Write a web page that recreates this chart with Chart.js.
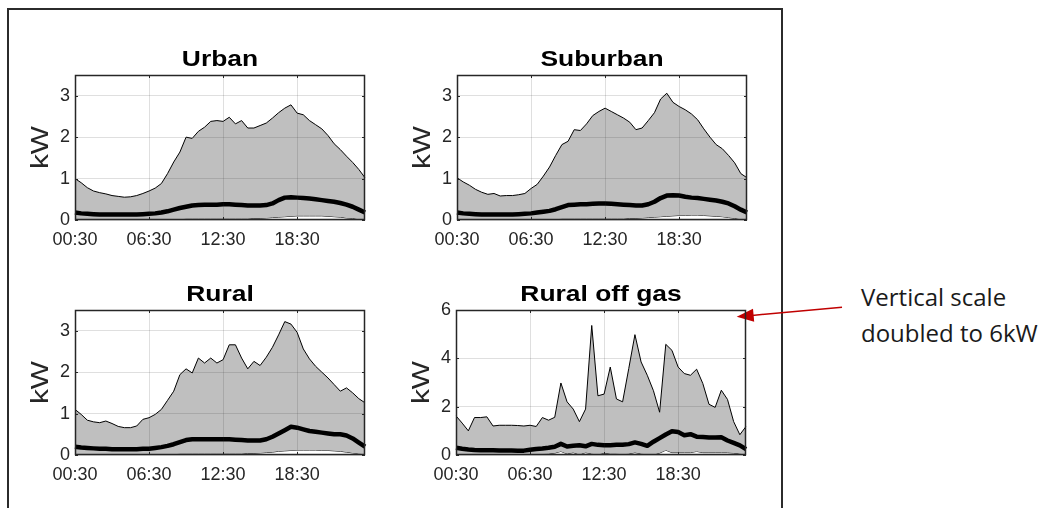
<!DOCTYPE html>
<html>
<head>
<meta charset="utf-8">
<script src="https://cdn.jsdelivr.net/npm/chart.js@4.4.1/dist/chart.umd.min.js"></script>
<style>
html, body { margin: 0; padding: 0; background: #fff; }
body { width: 1042px; height: 508px; position: relative; overflow: hidden; }
#frame { position: absolute; left: 7px; top: 8px; width: 772px; height: 520px; border: 2px solid #2b2b2b; }
.panel { position: absolute; display: block; }
#note { position: absolute; left: 861px; top: 279px; font: 24px/36px "Open Sans", sans-serif; color: #1a1a1a; white-space: nowrap; }
#arrow { position: absolute; left: 0; top: 0; }
</style>
</head>
<body>
<div id="frame"></div>
<div id="note">Vertical scale<br>doubled to 6kW</div>
<svg id="arrow" width="1042" height="508">
  <line x1="842" y1="307.3" x2="752" y2="315.4" stroke="#c00000" stroke-width="1.5"/>
  <polygon points="736.7,316.7 754.2,321.7 753.0,308.7" fill="#c00000"/>
</svg>
<script>
// half-hourly time of day, 00:30 .. 24:00
const times = [
  '00:30','01:00','01:30','02:00','02:30','03:00','03:30','04:00','04:30','05:00','05:30','06:00',
  '06:30','07:00','07:30','08:00','08:30','09:00','09:30','10:00','10:30','11:00','11:30','12:00',
  '12:30','13:00','13:30','14:00','14:30','15:00','15:30','16:00','16:30','17:00','17:30','18:00',
  '18:30','19:00','19:30','20:00','20:30','21:00','21:30','22:00','22:30','23:00','23:30','24:00'
];
const xTickTimes = ['00:30', '06:30', '12:30', '18:30'];
const lowYTicks = [0, 1, 2, 3];
const highYTicks = [0, 2, 4, 6];
const panelTitles = ['Urban', 'Suburban', 'Rural', 'Rural off gas'];

const urbanUpper = [1.00,0.90,0.78,0.70,0.66,0.63,0.59,0.57,0.55,0.56,0.59,0.64,
  0.70,0.77,0.88,1.12,1.40,1.64,2.00,1.97,2.14,2.24,2.38,2.40,
  2.38,2.48,2.32,2.40,2.22,2.22,2.28,2.34,2.46,2.59,2.70,2.78,
  2.58,2.54,2.40,2.30,2.20,2.04,1.84,1.70,1.54,1.39,1.22,1.02];
const urbanMean = [0.18,0.16,0.15,0.14,0.13,0.13,0.13,0.13,0.13,0.13,0.13,0.14,
  0.15,0.16,0.18,0.21,0.25,0.29,0.32,0.35,0.36,0.37,0.37,0.37,
  0.38,0.38,0.37,0.36,0.35,0.35,0.35,0.36,0.40,0.48,0.54,0.55,
  0.54,0.53,0.52,0.50,0.48,0.46,0.44,0.41,0.37,0.32,0.25,0.18];
const urbanLower = [0.02,0.02,0.01,0.01,0.01,0.01,0.01,0.01,0.01,0.01,0.01,0.01,
  0.01,0.01,0.01,0.02,0.02,0.02,0.03,0.03,0.03,0.03,0.03,0.03,
  0.03,0.03,0.03,0.03,0.03,0.04,0.04,0.05,0.06,0.07,0.08,0.09,
  0.10,0.10,0.10,0.10,0.10,0.09,0.08,0.07,0.05,0.04,0.02,0.01];

const suburbanUpper = [1.02,0.92,0.84,0.74,0.67,0.62,0.64,0.58,0.59,0.59,0.61,0.64,
  0.76,0.86,1.06,1.28,1.56,1.82,1.90,2.18,2.16,2.32,2.52,2.62,
  2.70,2.62,2.54,2.46,2.36,2.18,2.22,2.40,2.59,2.92,3.06,2.84,
  2.74,2.66,2.56,2.42,2.20,2.00,1.82,1.72,1.56,1.38,1.12,1.02];
const suburbanMean = [0.18,0.16,0.15,0.14,0.13,0.13,0.13,0.13,0.13,0.13,0.14,0.15,
  0.16,0.18,0.20,0.22,0.26,0.31,0.36,0.37,0.38,0.38,0.39,0.40,
  0.40,0.39,0.38,0.37,0.36,0.35,0.35,0.38,0.44,0.53,0.59,0.60,
  0.59,0.56,0.54,0.53,0.51,0.49,0.47,0.44,0.40,0.33,0.25,0.18];
const suburbanLower = [0.02,0.02,0.01,0.01,0.01,0.01,0.01,0.01,0.01,0.01,0.01,0.01,
  0.01,0.01,0.02,0.02,0.02,0.03,0.03,0.03,0.03,0.03,0.03,0.03,
  0.03,0.03,0.03,0.03,0.04,0.04,0.05,0.06,0.07,0.08,0.09,0.10,
  0.11,0.11,0.12,0.12,0.11,0.10,0.09,0.08,0.06,0.04,0.02,0.01];

const ruralUpper = [1.10,0.98,0.84,0.80,0.78,0.82,0.76,0.69,0.66,0.66,0.70,0.86,
  0.90,0.98,1.10,1.32,1.54,1.94,2.08,1.98,2.34,2.22,2.34,2.22,
  2.30,2.66,2.66,2.34,2.08,2.26,2.16,2.36,2.60,2.90,3.22,3.16,
  2.96,2.56,2.32,2.14,2.00,1.86,1.70,1.54,1.62,1.50,1.36,1.26];
const ruralMean = [0.20,0.18,0.17,0.16,0.15,0.15,0.14,0.14,0.14,0.14,0.14,0.15,
  0.15,0.17,0.19,0.22,0.26,0.31,0.36,0.38,0.38,0.38,0.38,0.38,
  0.38,0.38,0.37,0.36,0.35,0.35,0.35,0.38,0.44,0.52,0.60,0.68,
  0.66,0.62,0.58,0.56,0.54,0.52,0.50,0.50,0.47,0.40,0.30,0.20];
const ruralLower = [0.02,0.02,0.01,0.01,0.01,0.01,0.01,0.01,0.01,0.01,0.01,0.01,
  0.01,0.01,0.02,0.02,0.02,0.03,0.03,0.03,0.03,0.03,0.03,0.03,
  0.03,0.03,0.03,0.03,0.04,0.04,0.05,0.06,0.07,0.09,0.10,0.11,
  0.12,0.12,0.12,0.12,0.11,0.11,0.10,0.09,0.07,0.05,0.03,0.02];

const offGasUpper = [1.62,1.32,1.00,1.55,1.55,1.58,1.20,1.23,1.23,1.23,1.22,1.20,
  1.23,1.18,1.55,1.44,1.56,2.98,2.20,1.90,1.38,1.90,5.36,2.45,
  2.52,3.64,2.32,2.20,3.58,4.98,3.85,3.30,2.66,1.77,4.58,4.33,
  3.64,3.37,3.30,3.55,2.96,2.10,1.97,2.68,2.30,1.38,0.84,1.18];
const offGasMean = [0.30,0.26,0.23,0.21,0.20,0.20,0.20,0.19,0.19,0.19,0.18,0.18,
  0.22,0.25,0.27,0.30,0.34,0.46,0.35,0.38,0.40,0.36,0.46,0.42,
  0.40,0.40,0.42,0.42,0.45,0.52,0.46,0.38,0.55,0.70,0.85,0.98,
  0.95,0.82,0.86,0.76,0.74,0.72,0.72,0.73,0.60,0.50,0.40,0.24];
const offGasLower = [0.02,0.02,0.02,0.02,0.02,0.02,0.02,0.02,0.02,0.02,0.02,0.02,
  0.02,0.03,0.04,0.05,0.08,0.15,0.05,0.10,0.02,0.10,0.05,0.02,
  0.08,0.05,0.05,0.03,0.05,0.10,0.05,0.03,0.02,0.08,0.20,0.10,
  0.10,0.10,0.10,0.15,0.10,0.10,0.10,0.10,0.10,0.08,0.05,0.02];

// layout of each subplot (plot box position on the page)
const PLOT_W = 290, PLOT_H = 145;
const AXIS_W = 65, TOP_PAD = 45, AXIS_H = 38, RIGHT_PAD = 6;

const panels = [
  { title: panelTitles[0], upper: urbanUpper, mean: urbanMean, lower: urbanLower, yMax: 3.5, yTicks: lowYTicks, px: 75, py: 75 },
  { title: panelTitles[1], upper: suburbanUpper, mean: suburbanMean, lower: suburbanLower, yMax: 3.5, yTicks: lowYTicks, px: 457, py: 75 },
  { title: panelTitles[2], upper: ruralUpper, mean: ruralMean, lower: ruralLower, yMax: 3.5, yTicks: lowYTicks, px: 75, py: 310 },
  { title: panelTitles[3], upper: offGasUpper, mean: offGasMean, lower: offGasLower, yMax: 6, yTicks: highYTicks, px: 456, py: 310 }
];

const TEXT = '#262626';
const TICK_FONT = { family: '"Liberation Sans", Arial, sans-serif', size: 18 };

// box with inward ticks, title and y label, drawn like the matlab axes
const axesDecor = {
  id: 'axesDecor',
  afterDraw(chart, args, opts) {
    const ctx = chart.ctx;
    const a = chart.chartArea;
    const xs = chart.scales.x, ys = chart.scales.y;
    ctx.save();
    ctx.strokeStyle = TEXT;
    ctx.lineWidth = 1.5;
    ctx.strokeRect(a.left + 0.5, a.top + 0.5, a.right - a.left - 1, a.bottom - a.top - 1);
    ctx.lineWidth = 1;
    ctx.beginPath();
    xTickTimes.forEach(t => {
      const px = Math.round(xs.getPixelForValue(times.indexOf(t))) + 0.5;
      ctx.moveTo(px, a.bottom); ctx.lineTo(px, a.bottom - 3);
      ctx.moveTo(px, a.top); ctx.lineTo(px, a.top + 3);
    });
    ys.ticks.forEach(tk => {
      const py = Math.round(ys.getPixelForValue(tk.value)) + 0.5;
      ctx.moveTo(a.left, py); ctx.lineTo(a.left + 3, py);
      ctx.moveTo(a.right, py); ctx.lineTo(a.right - 3, py);
    });
    ctx.stroke();

    // title
    ctx.fillStyle = '#000';
    ctx.font = 'bold 22px "Liberation Sans", Arial, sans-serif';
    ctx.textAlign = 'center';
    ctx.textBaseline = 'alphabetic';
    ctx.save();
    ctx.translate((a.left + a.right) / 2, a.top - 9);
    ctx.scale(1.2, 1);
    ctx.fillText(opts.title, 0, 0);
    ctx.restore();

    // y label
    ctx.fillStyle = TEXT;
    ctx.font = '23px "Liberation Sans", Arial, sans-serif';
    ctx.save();
    ctx.translate(a.left - 27, (a.top + a.bottom) / 2);
    ctx.rotate(-Math.PI / 2);
    ctx.scale(1.3, 1);
    ctx.fillText('kW', 0, 0);
    ctx.restore();
    ctx.restore();
  }
};

panels.forEach(p => {
  const canvas = document.createElement('canvas');
  canvas.className = 'panel';
  canvas.width = AXIS_W + PLOT_W + RIGHT_PAD;
  canvas.height = TOP_PAD + PLOT_H + AXIS_H;
  canvas.style.left = (p.px - AXIS_W) + 'px';
  canvas.style.top = (p.py - TOP_PAD) + 'px';
  document.body.appendChild(canvas);

  new Chart(canvas.getContext('2d'), {
    type: 'line',
    data: {
      labels: times,
      datasets: [
        { data: p.upper, borderColor: '#000', borderWidth: 1, backgroundColor: '#bfbfbf', fill: '+1', pointRadius: 0, order: 1 },
        { data: p.lower, borderColor: '#111', borderWidth: 1, fill: false, pointRadius: 0, order: 2 },
        { data: p.mean, borderColor: '#000', borderWidth: 4.5, borderJoinStyle: 'round', fill: false, pointRadius: 0, order: 0 }
      ]
    },
    options: {
      responsive: false,
      animation: false,
      layout: { padding: { top: TOP_PAD, right: RIGHT_PAD, left: 0, bottom: 0 } },
      plugins: {
        legend: { display: false },
        tooltip: { enabled: false },
        axesDecor: { title: p.title }
      },
      scales: {
        x: {
          type: 'category',
          offset: false,
          grid: { color: 'rgba(38,38,38,0.15)', lineWidth: 1, drawTicks: false, z: 1 },
          border: { display: false },
          ticks: {
            autoSkip: false, maxRotation: 0, padding: 9, color: TEXT, font: TICK_FONT,
            callback: (v, i) => xTickTimes.includes(times[i]) ? times[i] : null
          },
          afterFit: s => { s.height = AXIS_H; }
        },
        y: {
          min: 0, max: p.yMax,
          grid: { color: 'rgba(38,38,38,0.15)', lineWidth: 1, drawTicks: false, z: 1 },
          border: { display: false },
          ticks: { padding: 5, color: TEXT, font: TICK_FONT },
          afterBuildTicks: s => { s.ticks = p.yTicks.map(v => ({ value: v })); },
          afterFit: s => { s.width = AXIS_W; }
        }
      }
    },
    plugins: [axesDecor]
  });
});
</script>
</body>
</html>
